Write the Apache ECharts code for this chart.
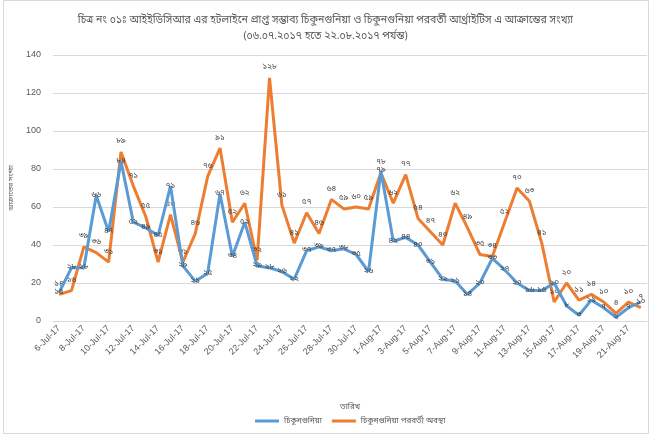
<!DOCTYPE html>
<html>
<head>
<meta charset="utf-8">
<script src="https://cdn.jsdelivr.net/npm/echarts@6/dist/echarts.min.js"></script>
<style>
  html, body { margin: 0; padding: 0; background: #fff; }
  #chart { width: 651px; height: 438px; }
</style>
</head>
<body>
<div id="chart"></div>
<script>
// তারিখ (৬ জুলাই - ২২ আগস্ট ২০১৭)
var dates = [
  '6-Jul-17', '7-Jul-17', '8-Jul-17', '9-Jul-17', '10-Jul-17', '11-Jul-17', '12-Jul-17', '13-Jul-17',
  '14-Jul-17', '15-Jul-17', '16-Jul-17', '17-Jul-17', '18-Jul-17', '19-Jul-17', '20-Jul-17', '21-Jul-17',
  '22-Jul-17', '23-Jul-17', '24-Jul-17', '25-Jul-17', '26-Jul-17', '27-Jul-17', '28-Jul-17', '29-Jul-17',
  '30-Jul-17', '31-Jul-17', '1-Aug-17', '2-Aug-17', '3-Aug-17', '4-Aug-17', '5-Aug-17', '6-Aug-17',
  '7-Aug-17', '8-Aug-17', '9-Aug-17', '10-Aug-17', '11-Aug-17', '12-Aug-17', '13-Aug-17', '14-Aug-17',
  '15-Aug-17', '16-Aug-17', '17-Aug-17', '18-Aug-17', '19-Aug-17', '20-Aug-17', '21-Aug-17', '22-Aug-17'
]

// চিকুনগুনিয়া
var chikungunya = [
  15, 28, 28, 66, 47, 84, 52, 49, 45, 71, 29, 21, 25, 67, 34, 52,
  29, 28, 26, 22, 37, 39, 37, 38, 35, 26, 79, 42, 44, 40, 31, 22,
  21, 14, 20, 33, 27, 20, 16, 16, 20, 8, 3, 11, 7, 2, 7, 10
]

// চিকুনগুনিয়া পরবর্তী
var postChik = [
  14, 16, 39, 36, 31, 89, 71, 55, 31, 56, 31, 46, 76, 91, 52, 62,
  32, 128, 61, 41, 57, 46, 64, 59, 60, 59, 78, 62, 77, 54, 47, 40,
  62, 49, 35, 34, 52, 70, 63, 41, 10, 20, 11, 14, 10, 4, 10, 7
]

var seriesNames = ['চিকুনগুনিয়া', 'চিকুনগুনিয়া পরবর্তী অবস্থা']
var yTicks = { min: 0, max: 140, interval: 20 }

var bnFont = '"Noto Sans Bengali", "Noto Sans", sans-serif'

function toBn(n) {
  return String(n).replace(/\d/g, function (d) { return '০১২৩৪৫৬৭৮৯'[d] })
}

var chart = echarts.init(document.getElementById('chart'))

var option = {
  animation: false,
  textStyle: { fontFamily: bnFont },
  color: ['#5b9bd5', '#ed7d31'],
  title: {
    text: 'চিত্র নং ০১ঃ আইইডিসিআর এর হটলাইনে প্রাপ্ত সম্ভাব্য চিকুনগুনিয়া ও চিকুনগুনিয়া পরবর্তী আর্থ্রাইটিস এ আক্রান্তের সংখ্যা\n(০৬.০৭.২০১৭ হতে ২২.০৮.২০১৭ পর্যন্ত)',
    left: 'center',
    top: 8,
    textStyle: {
      fontSize: 10.5,
      fontWeight: 'normal',
      color: '#595959',
      lineHeight: 16,
      fontFamily: bnFont
    }
  },
  graphic: [{
    type: 'rect',
    shape: { x: 3.5, y: 0.5, width: 645, height: 433 },
    style: { fill: 'none', stroke: '#d9d9d9', lineWidth: 1 },
    silent: true,
    z: -1
  }],
  legend: {
    bottom: 8,
    left: 250,
    icon: 'rect',
    itemWidth: 24,
    itemHeight: 3,
    itemGap: 10,
    textStyle: { fontSize: 8, color: '#595959' },
    data: seriesNames
  },
  grid: {
    left: 51,
    right: 4,
    top: 55,
    bottom: 117
  },
  xAxis: {
    type: 'category',
    data: dates,
    boundaryGap: true,
    name: 'তারিখ',
    nameLocation: 'middle',
    nameGap: 82,
    nameTextStyle: { fontSize: 8, color: '#595959' },
    axisLine: { lineStyle: { color: '#d9d9d9' } },
    axisTick: { show: false },
    axisLabel: {
      interval: 1,
      rotate: 45,
      fontSize: 9,
      color: '#595959',
      fontFamily: 'Liberation Sans, Arial, sans-serif',
      margin: 6
    }
  },
  yAxis: {
    type: 'value',
    min: yTicks.min,
    max: yTicks.max,
    interval: yTicks.interval,
    name: 'আক্রান্তের সংখ্যা',
    nameLocation: 'middle',
    nameGap: 26,
    nameTextStyle: { fontSize: 7, color: '#595959' },
    axisLine: { show: false },
    axisTick: { show: false },
    axisLabel: {
      fontSize: 9,
      color: '#595959',
      fontFamily: 'Liberation Sans, Arial, sans-serif',
      margin: 12
    },
    splitLine: { lineStyle: { color: '#d9d9d9', width: 1 } }
  },
  series: [{
    name: seriesNames[0],
    type: 'line',
    data: chikungunya,
    symbol: 'circle',
    symbolSize: 0,
    showSymbol: true,
    lineStyle: { width: 3, color: '#5b9bd5' },
    label: {
      show: true,
      position: 'inside',
      fontSize: 8,
      color: '#404040',
      formatter: function (p) { return toBn(p.value) }
    },
    z: 3
  }, {
    name: seriesNames[1],
    type: 'line',
    data: postChik,
    symbol: 'circle',
    symbolSize: 0,
    showSymbol: true,
    lineStyle: { width: 3, color: '#ed7d31' },
    label: {
      show: true,
      position: 'top',
      distance: 6,
      fontSize: 8,
      color: '#404040',
      formatter: function (p) { return toBn(p.value) }
    },
    z: 2
  }]
}

chart.setOption(option)
</script>
</body>
</html>
